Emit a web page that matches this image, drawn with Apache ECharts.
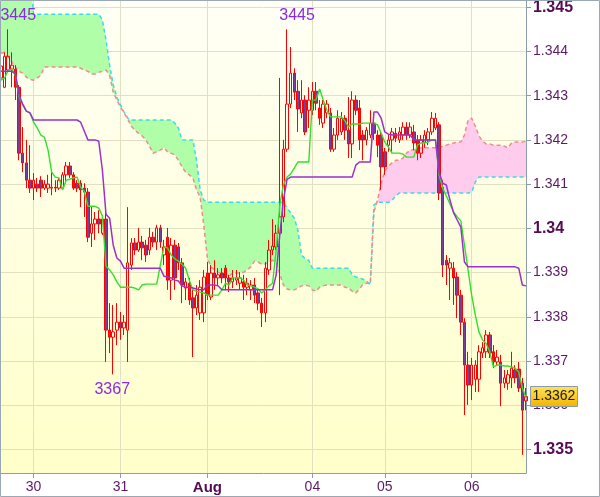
<!DOCTYPE html>
<html><head><meta charset="utf-8">
<script src="https://cdn.jsdelivr.net/npm/echarts@6/dist/echarts.min.js"></script>
<style>html,body{margin:0;padding:0;background:#fff}#c{width:600px;height:497px}</style>
</head><body><div id="c"></div>
<script>
const N = 146;
const categories = Array.from({length: N}, (_, i) => 'h' + i);
const xTickIdx = [9, 33, 57, 86, 106, 130];
const xTickText = ['30', '31', 'Aug', '04', '05', '06'];
const xTickBold = ['Aug'];
const yTicks = [1.335, 1.336, 1.337, 1.338, 1.339, 1.340, 1.341, 1.342, 1.343, 1.344, 1.345];
const yMin = 1.33447, yMax = 1.34514;

// [open, close, low, high]
const candles = [
[1.34340,1.34367,1.34326,1.34385],[1.34319,1.34389,1.34317,1.34398],[1.34358,1.34389,1.34353,1.34450],[1.34360,1.34369,1.34319,1.34398],
[1.34360,1.34319,1.34290,1.34369],[1.34319,1.34170,1.34154,1.34324],[1.34170,1.34148,1.34127,1.34229],[1.34148,1.34109,1.34091,1.34200],
[1.34109,1.34091,1.34080,1.34188],[1.34091,1.34109,1.34064,1.34125],[1.34100,1.34091,1.34082,1.34114],[1.34109,1.34091,1.34071,1.34118],
[1.34091,1.34100,1.34087,1.34109],[1.34091,1.34100,1.34080,1.34121],[1.34091,1.34093,1.34075,1.34127],[1.34093,1.34091,1.34082,1.34109],
[1.34091,1.34109,1.34087,1.34114],[1.34091,1.34121,1.34087,1.34127],[1.34121,1.34141,1.34102,1.34150],[1.34141,1.34121,1.34114,1.34150],
[1.34121,1.34091,1.34087,1.34127],[1.34102,1.34091,1.34082,1.34109],[1.34102,1.34087,1.34048,1.34109],[1.34091,1.34082,1.34026,1.34102],
[1.34082,1.33980,1.33969,1.34091],[1.33989,1.34010,1.33958,1.34048],[1.34010,1.34021,1.33974,1.34037],[1.34021,1.34010,1.33989,1.34041],
[1.33989,1.34021,1.33985,1.34030],[1.34021,1.33770,1.33698,1.34037],[1.33770,1.33754,1.33718,1.33831],[1.33754,1.33766,1.33670,1.33827],
[1.33770,1.33788,1.33736,1.33831],[1.33788,1.33775,1.33748,1.33811],[1.33775,1.33788,1.33759,1.33804],[1.33770,1.33922,1.33698,1.34048],
[1.33917,1.33967,1.33906,1.33978],[1.33967,1.33951,1.33940,1.33978],[1.33951,1.33969,1.33947,1.34001],[1.33969,1.33956,1.33928,1.33983],
[1.33962,1.33940,1.33924,1.33974],[1.33951,1.33980,1.33940,1.34001],[1.33980,1.33969,1.33958,1.33992],[1.33969,1.34001,1.33951,1.34008],
[1.34001,1.33969,1.33956,1.34008],[1.33940,1.33958,1.33917,1.33974],[1.33980,1.33883,1.33861,1.34001],[1.33883,1.33962,1.33838,1.33978],
[1.33962,1.33888,1.33861,1.33974],[1.33958,1.33922,1.33906,1.33967],[1.33922,1.33872,1.33831,1.33933],[1.33865,1.33879,1.33838,1.33888],
[1.33876,1.33838,1.33827,1.33888],[1.33843,1.33820,1.33709,1.33861],[1.33820,1.33849,1.33804,1.33872],[1.33809,1.33867,1.33793,1.33883],
[1.33809,1.33890,1.33788,1.33906],[1.33899,1.33849,1.33838,1.33924],[1.33845,1.33899,1.33838,1.33917],[1.33899,1.33888,1.33861,1.33928],
[1.33888,1.33895,1.33872,1.33910],[1.33899,1.33888,1.33876,1.33910],[1.33910,1.33888,1.33861,1.33917],[1.33888,1.33879,1.33856,1.33895],
[1.33879,1.33888,1.33865,1.33906],[1.33883,1.33888,1.33872,1.33906],[1.33876,1.33888,1.33861,1.33901],[1.33879,1.33867,1.33838,1.33895],
[1.33867,1.33876,1.33849,1.33888],[1.33861,1.33872,1.33838,1.33883],[1.33872,1.33849,1.33831,1.33888],[1.33854,1.33831,1.33815,1.33865],
[1.33831,1.33809,1.33777,1.33843],[1.33809,1.33910,1.33788,1.33924],[1.33906,1.33951,1.33895,1.33974],[1.33951,1.33960,1.33940,1.34021],
[1.33958,1.33989,1.33951,1.34008],[1.33989,1.34026,1.33849,1.34340],[1.34026,1.34179,1.34014,1.34200],[1.34179,1.34281,1.34173,1.34450],
[1.34281,1.34351,1.34272,1.34410],[1.34351,1.34308,1.34290,1.34362],[1.34310,1.34270,1.34218,1.34335],[1.34261,1.34290,1.34249,1.34335],
[1.34290,1.34218,1.34211,1.34301],[1.34267,1.34290,1.34227,1.34319],[1.34267,1.34310,1.34256,1.34331],[1.34310,1.34283,1.34267,1.34331],
[1.34272,1.34249,1.34234,1.34290],[1.34238,1.34281,1.34227,1.34290],[1.34261,1.34281,1.34249,1.34290],[1.34261,1.34179,1.34173,1.34272],
[1.34179,1.34211,1.34173,1.34227],[1.34211,1.34249,1.34200,1.34267],[1.34218,1.34249,1.34211,1.34263],[1.34249,1.34222,1.34200,1.34256],
[1.34222,1.34191,1.34159,1.34297],[1.34191,1.34290,1.34159,1.34310],[1.34290,1.34267,1.34256,1.34301],[1.34272,1.34200,1.34177,1.34290],
[1.34211,1.34200,1.34154,1.34222],[1.34200,1.34222,1.34188,1.34229],[1.34211,1.34238,1.34204,1.34267],[1.34238,1.34215,1.34200,1.34245],
[1.34211,1.34188,1.34161,1.34222],[1.34211,1.34139,1.34087,1.34218],[1.34173,1.34139,1.34121,1.34182],[1.34188,1.34200,1.34173,1.34211],
[1.34200,1.34218,1.34170,1.34227],[1.34215,1.34204,1.34195,1.34227],[1.34200,1.34218,1.34193,1.34229],[1.34211,1.34229,1.34200,1.34240],
[1.34229,1.34211,1.34200,1.34240],[1.34211,1.34229,1.34204,1.34240],[1.34218,1.34193,1.34177,1.34234],[1.34200,1.34170,1.34154,1.34211],
[1.34170,1.34200,1.34159,1.34211],[1.34195,1.34211,1.34182,1.34222],[1.34200,1.34218,1.34188,1.34227],[1.34218,1.34249,1.34211,1.34263],
[1.34227,1.34249,1.34222,1.34261],[1.34234,1.34080,1.34064,1.34240],[1.34093,1.33917,1.33890,1.34109],[1.33928,1.33917,1.33872,1.33940],
[1.33910,1.33922,1.33838,1.33933],[1.33910,1.33888,1.33827,1.33924],[1.33890,1.33849,1.33797,1.33901],[1.33849,1.33788,1.33759,1.33861],
[1.33788,1.33691,1.33578,1.33797],[1.33691,1.33646,1.33601,1.33721],[1.33646,1.33691,1.33612,1.33707],[1.33659,1.33691,1.33630,1.33702],
[1.33659,1.33721,1.33630,1.33736],[1.33718,1.33730,1.33707,1.33743],[1.33721,1.33759,1.33707,1.33770],[1.33759,1.33718,1.33707,1.33766],
[1.33721,1.33698,1.33684,1.33736],[1.33698,1.33709,1.33691,1.33725],[1.33698,1.33650,1.33598,1.33714],[1.33650,1.33662,1.33639,1.33680],
[1.33650,1.33669,1.33635,1.33680],[1.33662,1.33684,1.33639,1.33721],[1.33680,1.33662,1.33650,1.33691],[1.33682,1.33639,1.33630,1.33698],
[1.33650,1.33589,1.33488,1.33662],[1.33610,1.33620,1.33589,1.33639]
];

const tenkan = [
1.34335,1.34340,1.34358,1.34360,1.34346,1.34297,1.34279,1.34265,1.34261,1.34240,
1.34227,1.34211,1.34206,1.34177,1.34127,1.34116,1.34114,1.34087,1.34109,1.34111,
1.34114,1.34116,1.34093,1.34084,1.34050,1.34050,1.34050,1.34046,1.34028,1.33915,
1.33906,1.33895,1.33879,1.33867,1.33867,1.33867,1.33867,1.33865,1.33861,1.33872,
1.33874,1.33874,1.33874,1.33874,1.33917,1.33958,1.33956,1.33940,1.33931,1.33926,
1.33919,1.33910,1.33883,1.33861,1.33858,1.33856,1.33854,1.33849,1.33849,1.33849,
1.33849,1.33861,1.33876,1.33872,1.33888,1.33888,1.33888,1.33883,1.33872,1.33870,
1.33867,1.33863,1.33854,1.33861,1.33870,1.33876,1.33951,1.34053,1.34098,1.34116,
1.34123,1.34136,1.34150,1.34150,1.34150,1.34150,1.34290,1.34290,1.34315,1.34290,
1.34267,1.34252,1.34252,1.34252,1.34252,1.34243,1.34229,1.34236,1.34236,1.34236,
1.34238,1.34238,1.34238,1.34238,1.34234,1.34215,1.34195,1.34184,1.34170,1.34170,
1.34170,1.34168,1.34161,1.34161,1.34161,1.34188,1.34193,1.34193,1.34195,1.34200,
1.34200,1.34121,1.34091,1.34073,1.34055,1.34037,1.34026,1.34017,1.33962,1.33906,
1.33849,1.33804,1.33766,1.33748,1.33739,1.33721,1.33687,1.33691,1.33691,1.33689,
1.33689,1.33687,1.33684,1.33675,1.33639,1.33617
];

const kijun = [
1.34355,1.34355,1.34355,1.34355,1.34349,1.34301,1.34281,1.34265,1.34261,1.34245,
1.34245,1.34245,1.34245,1.34245,1.34245,1.34245,1.34245,1.34245,1.34245,1.34245,
1.34245,1.34245,1.34240,1.34220,1.34200,1.34200,1.34200,1.34197,1.34132,1.34032,
1.34023,1.33962,1.33933,1.33926,1.33910,1.33910,1.33910,1.33910,1.33910,1.33910,
1.33910,1.33910,1.33910,1.33910,1.33910,1.33892,1.33890,1.33888,1.33883,1.33881,
1.33870,1.33867,1.33867,1.33865,1.33863,1.33861,1.33861,1.33872,1.33872,1.33872,
1.33870,1.33861,1.33861,1.33861,1.33861,1.33861,1.33861,1.33861,1.33861,1.33861,
1.33861,1.33861,1.33861,1.33861,1.33861,1.33861,1.33895,1.33985,1.34064,1.34111,
1.34116,1.34116,1.34116,1.34116,1.34116,1.34116,1.34116,1.34116,1.34116,1.34116,
1.34116,1.34116,1.34116,1.34116,1.34116,1.34116,1.34116,1.34116,1.34143,1.34150,
1.34150,1.34150,1.34150,1.34263,1.34263,1.34249,1.34218,1.34213,1.34211,1.34211,
1.34211,1.34211,1.34211,1.34211,1.34200,1.34200,1.34200,1.34200,1.34200,1.34200,
1.34200,1.34127,1.34102,1.34098,1.34064,1.34035,1.34019,1.34003,1.33924,1.33913,
1.33913,1.33913,1.33913,1.33913,1.33913,1.33913,1.33913,1.33913,1.33913,1.33913,
1.33913,1.33913,1.33913,1.33910,1.33872,1.33870
];

const spanA = [
1.34584,1.34584,1.34584,1.34584,1.34584,1.34584,1.34584,1.34584,1.34584,1.34484,
1.34484,1.34484,1.34484,1.34484,1.34484,1.34484,1.34484,1.34484,1.34484,1.34484,
1.34484,1.34484,1.34484,1.34484,1.34484,1.34484,1.34484,1.34484,1.34471,1.34426,
1.34369,1.34324,1.34297,1.34279,1.34263,1.34249,1.34245,1.34245,1.34245,1.34245,
1.34245,1.34245,1.34245,1.34245,1.34245,1.34245,1.34245,1.34245,1.34238,1.34227,
1.34200,1.34200,1.34200,1.34200,1.34154,1.34087,1.34064,1.34059,1.34059,1.34059,
1.34059,1.34059,1.34059,1.34059,1.34059,1.34059,1.34059,1.34059,1.34059,1.34059,
1.34059,1.34059,1.34059,1.34059,1.34059,1.34059,1.34059,1.34059,1.34059,1.34046,
1.34035,1.34023,1.33996,1.33940,1.33931,1.33928,1.33910,1.33910,1.33910,1.33910,
1.33910,1.33910,1.33910,1.33910,1.33910,1.33910,1.33910,1.33895,1.33890,1.33888,
1.33885,1.33881,1.33872,1.34053,1.34059,1.34059,1.34059,1.34059,1.34064,1.34073,
1.34080,1.34080,1.34080,1.34080,1.34080,1.34080,1.34080,1.34080,1.34080,1.34080,
1.34080,1.34080,1.34080,1.34080,1.34080,1.34080,1.34080,1.34080,1.34080,1.34080,
1.34082,1.34105,1.34116,1.34116,1.34116,1.34116,1.34116,1.34116,1.34116,1.34116,
1.34116,1.34116,1.34116,1.34116,1.34116,1.34116
];

const spanB = [
1.34396,1.34398,1.34387,1.34376,1.34365,1.34355,1.34351,1.34342,1.34337,1.34335,
1.34340,1.34346,1.34365,1.34365,1.34365,1.34365,1.34365,1.34365,1.34365,1.34365,
1.34365,1.34365,1.34362,1.34358,1.34355,1.34349,1.34349,1.34353,1.34355,1.34358,
1.34346,1.34308,1.34290,1.34274,1.34261,1.34247,1.34231,1.34222,1.34215,1.34209,
1.34200,1.34186,1.34170,1.34173,1.34177,1.34182,1.34173,1.34170,1.34166,1.34154,
1.34139,1.34127,1.34121,1.34114,1.34087,1.34071,1.34008,1.33933,1.33913,1.33906,
1.33901,1.33897,1.33892,1.33892,1.33899,1.33899,1.33899,1.33901,1.33906,1.33913,
1.33926,1.33924,1.33919,1.33919,1.33924,1.33928,1.33924,1.33897,1.33872,1.33863,
1.33861,1.33861,1.33865,1.33870,1.33872,1.33870,1.33861,1.33858,1.33867,1.33870,
1.33872,1.33872,1.33872,1.33872,1.33872,1.33867,1.33865,1.33858,1.33854,1.33863,
1.33874,1.33876,1.33876,1.34037,1.34064,1.34102,1.34130,1.34141,1.34148,1.34154,
1.34154,1.34159,1.34170,1.34177,1.34177,1.34179,1.34182,1.34182,1.34182,1.34182,
1.34182,1.34182,1.34186,1.34188,1.34191,1.34193,1.34195,1.34195,1.34211,1.34245,
1.34249,1.34231,1.34209,1.34197,1.34191,1.34191,1.34188,1.34188,1.34188,1.34186,
1.34182,1.34193,1.34195,1.34195,1.34195,1.34197
];

const marks = [
  {idx: 2, price: 1.3445, text: '3445', side: 'high'},
  {idx: 79, price: 1.3445, text: '3445', side: 'high'},
  {idx: 31, price: 1.3367, text: '3367', side: 'low'}
];
const lastPrice = 1.3362;

// cloud bands derived from the two spans
const cloudBase = spanA.map((a, i) => Math.min(a, spanB[i]));
const cloudBull = spanA.map((a, i) => Math.max(a - spanB[i], 0));
const cloudBear = spanA.map((a, i) => Math.max(spanB[i] - a, 0));

const chart = echarts.init(document.getElementById('c'));
const axisGray = '#8c9cac';
const gridCol = '#e2e0c2';
const lblCol = '#5b1a66';
const boldCol = '#550a55';
const FONT = '"Liberation Sans", Arial, sans-serif';
const fmtY = v => { let s = v.toFixed(3); if (s.endsWith('0')) s = s.slice(0, -1); return s; };
const showX = (i) => xTickIdx.indexOf(i) >= 0;

const option = {
  animation: false,
  backgroundColor: '#ffffff',
  grid: {
    left: 1, right: 74, top: 1, bottom: 24, show: true, borderWidth: 0,
    outerBoundsMode: 'none', containLabel: false,
    backgroundColor: new echarts.graphic.LinearGradient(0, 0, 0, 1, [
      {offset: 0, color: '#fffff6'}, {offset: 1, color: '#ffffca'}
    ])
  },
  xAxis: {
    type: 'category', data: categories, boundaryGap: false,
    axisLine: {onZero: false, lineStyle: {color: axisGray, width: 1}},
    axisTick: {interval: showX, length: 5, lineStyle: {color: axisGray}},
    axisLabel: {
      interval: showX, margin: 7, color: lblCol, fontSize: 14, fontFamily: FONT,
      formatter: (v, i) => { const k = xTickIdx.indexOf(i); if (k < 0) return ''; const t = xTickText[k]; return xTickBold.indexOf(t) >= 0 ? '{b|' + t + '}' : t; },
      rich: {b: {fontWeight: 'bold', fontSize: 15, color: boldCol, fontFamily: FONT}}
    },
    splitLine: {show: true, interval: showX, lineStyle: {color: gridCol, width: 1}}
  },
  yAxis: {
    type: 'value', position: 'right', min: yMin, max: yMax, scale: true,
    axisLine: {show: true, lineStyle: {color: axisGray, width: 1}},
    axisTick: {show: true, length: 5, lineStyle: {color: axisGray}, customValues: yTicks},
    axisLabel: {
      customValues: yTicks, margin: 7, color: lblCol, fontSize: 14, fontFamily: FONT,
      formatter: v => { const s = fmtY(v); return (Math.round(v * 1000) % 5 === 0) ? '{b|' + s + '}' : s; },
      rich: {b: {fontWeight: 'bold', fontSize: 16, color: boldCol, fontFamily: FONT}}
    },
    splitLine: {show: true, lineStyle: {color: gridCol, width: 1}}
  },
  series: [
    {type: 'line', data: cloudBase, stack: 'cloud', symbol: 'none', lineStyle: {opacity: 0}, silent: true, z: 1},
    {type: 'line', data: cloudBull, stack: 'cloud', symbol: 'none', lineStyle: {opacity: 0}, areaStyle: {color: '#b0ffa8', opacity: 1}, silent: true, z: 1},
    {type: 'line', data: cloudBear, stack: 'cloud', symbol: 'none', lineStyle: {opacity: 0}, areaStyle: {color: '#ffccee', opacity: 1}, silent: true, z: 1},
    {type: 'line', data: spanA, symbol: 'none', lineStyle: {color: '#3cdae4', width: 1.5, type: [4, 3]}, z: 2},
    {type: 'line', data: spanB, symbol: 'none', lineStyle: {color: '#f08c8c', width: 1.5, type: [4, 3]}, z: 2},
    {type: 'candlestick', data: candles, barWidth: 3, z: 3,
      itemStyle: {color: 'rgba(0,0,0,0)', color0: '#7440a0', borderColor: '#ff0000', borderColor0: '#ff0000', borderColorDoji: '#ff0000', borderWidth: 1}},
    {type: 'line', data: tenkan, symbol: 'none', lineStyle: {color: '#2fe02f', width: 1.4}, z: 4},
    {type: 'line', data: kijun, symbol: 'none', lineStyle: {color: '#9b30d0', width: 1.5}, z: 4}
  ]
};
chart.setOption(option);

const g = [];
marks.forEach(m => {
  const p = chart.convertToPixel({gridIndex: 0}, [m.idx, m.price]);
  const high = m.side === 'high';
  g.push({type: 'text', x: p[0] + (high ? 10 : -1), y: p[1] + (high ? -14 : 15), z: 10, silent: true,
    style: {text: m.text, fill: '#8a2be2', font: '16px ' + FONT, align: 'center', verticalAlign: 'middle'}});
});
const pl = chart.convertToPixel({gridIndex: 0}, [N - 1, lastPrice]);
const ty = Math.round(pl[1]);
g.push({type: 'rect', z: 10, silent: true, shape: {x: 530.5, y: ty - 9.5, width: 47, height: 20},
  style: {fill: new echarts.graphic.LinearGradient(0, 0, 0, 1, [{offset: 0, color: '#ffe45a'}, {offset: 1, color: '#f2b300'}]), stroke: axisGray, lineWidth: 1}});
g.push({type: 'text', x: 554, y: ty + 0.5, z: 11, silent: true,
  style: {text: lastPrice.toFixed(4), fill: '#1a1a1a', font: '14px ' + FONT, align: 'center', verticalAlign: 'middle'}});
g.push({type: 'rect', z: 20, silent: true, shape: {x: 0.5, y: 0.5, width: 599, height: 496},
  style: {fill: 'none', stroke: '#9aa8b6', lineWidth: 1}});
chart.setOption({graphic: g});
</script>
</body></html>
